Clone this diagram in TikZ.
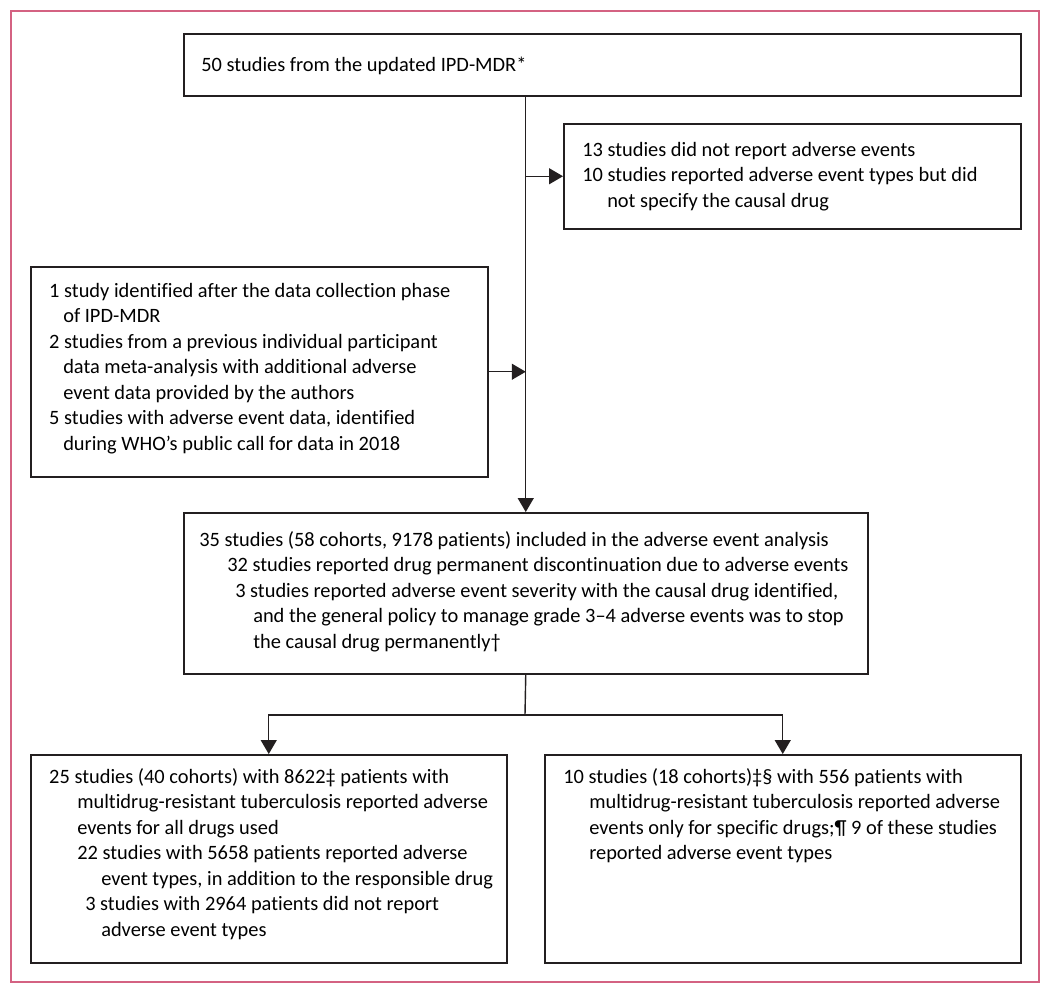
\documentclass[tikz,border=0pt]{standalone}
\usepackage{fontspec}
\setmainfont{Carlito}[Ligatures=NoCommon]
\usetikzlibrary{arrows.meta}

\definecolor{framepink}{RGB}{212,98,130}
\definecolor{boxline}{RGB}{35,31,32}

\tikzset{every picture/.style={line width=0.75pt}}
\tikzset{
  box/.style={draw=boxline, anchor=north west, inner sep=0pt},
  boxtext/.style={anchor=north west, inner sep=0.75pt, align=left, font=\fontsize{10.2}{12.75}\selectfont},
  flow/.style={draw=boxline, line width=0.7pt, -{Triangle[length=7pt,width=8pt]}},
}

\begin{document}
\begin{tikzpicture}[x=0.5pt,y=0.5pt,yscale=-1,xscale=1]
\useasboundingbox (0,0) rectangle (1050,992);

%Frame
\draw[framepink, line width=0.9pt] (11,11) rectangle (1039,982);

%Shape: Boxes
\node[box, minimum width=418.5pt, minimum height=31pt] (ipd) at (183,33) {};
\node[box, minimum width=228.5pt, minimum height=52.5pt] (excl) at (563,123) {};
\node[box, minimum width=228.5pt, minimum height=105pt] (added) at (30,266) {};
\node[box, minimum width=342pt, minimum height=80.5pt] (incl) at (183,512) {};
\node[box, minimum width=238pt, minimum height=104pt] (allrep) at (30,754) {};
\node[box, minimum width=238pt, minimum height=104pt] (specrep) at (544,754) {};

% Text Node
\node[boxtext] (ipdtxt) at (199,55) {50 studies from the updated IPD-MDR*};
% Text Node
\node[boxtext] (excltxt) at (580,140) {13 studies did not report adverse events\\
10 studies reported adverse event types but did\\
\hspace*{12.5pt}not specify the causal drug};
% Text Node
\node[boxtext] (addedtxt) at (47,281) {1 study identified after the data collection phase\\
\hspace*{7pt}of IPD-MDR\\
2 studies from a previous individual participant\\
\hspace*{7pt}data meta-analysis with additional adverse\\
\hspace*{7pt}event data provided by the authors\\
5 studies with adverse event data, identified\\
\hspace*{7pt}during WHO’s public call for data in 2018};
% Text Node
\node[boxtext] (incltxt) at (197,529) {35 studies (58 cohorts, 9178 patients) included in the adverse event analysis\\
\hspace*{14pt}32 studies reported drug permanent discontinuation due to adverse events\\
\hspace*{18pt}3 studies reported adverse event severity with the causal drug identified,\\
\hspace*{27pt}and the general policy to manage grade 3–4 adverse events was to stop\\
\hspace*{27pt}the causal drug permanently†};
% Text Node
\node[boxtext] (allreptxt) at (47,766) {25 studies (40 cohorts) with 8622‡ patients with\\
\hspace*{14pt}multidrug-resistant tuberculosis reported adverse\\
\hspace*{14pt}events for all drugs used\\
\hspace*{14pt}22 studies with 5658 patients reported adverse\\
\hspace*{26pt}event types, in addition to the responsible drug\\
\hspace*{18pt}3 studies with 2964 patients did not report\\
\hspace*{26pt}adverse event types};
% Text Node
\node[boxtext] (specreptxt) at (561,766) {10 studies (18 cohorts)‡§ with 556 patients with\\
\hspace*{13pt}multidrug-resistant tuberculosis reported adverse\\
\hspace*{13pt}events only for specific drugs;¶ 9 of these studies\\
\hspace*{13pt}reported adverse event types};

%Connectors
\draw[flow] (ipd.south -| incl.north) -- (incl.north);
\draw[flow] (excl.west -| incl.north) -- (excl.west);
\draw[flow] (added.east) -- (added.east -| incl.north);
\coordinate (split) at (525,715);
\draw[draw=boxline, line width=0.7pt] (incl.south) -- (split);
\draw[flow] (split) -| (allrep.north);
\draw[flow] (split) -| (specrep.north);

\end{tikzpicture}
\end{document}
